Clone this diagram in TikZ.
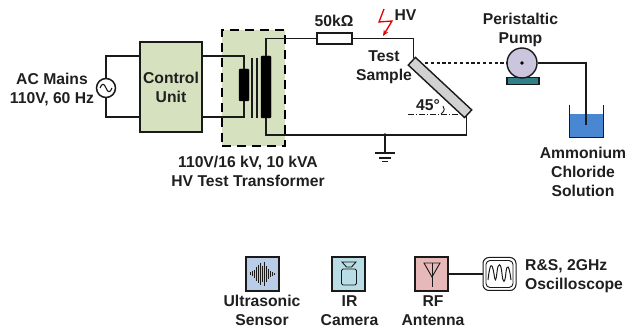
\documentclass[tikz,border=0pt]{standalone}
\usepackage{fontspec}
\setmainfont{Liberation Sans}
\usetikzlibrary{arrows.meta}
\definecolor{boxgreen}{HTML}{D6E1BF}
\definecolor{pumpfill}{HTML}{CBC5DD}
\definecolor{basefill}{HTML}{2F8089}
\definecolor{water}{HTML}{4A87D2}
\definecolor{usfill}{HTML}{B9CDE9}
\definecolor{irfill}{HTML}{B8DDE4}
\definecolor{rffill}{HTML}{E6B9B8}
\definecolor{wirecol}{HTML}{1A1A1A}
\tikzset{
  wire/.style={draw=wirecol,line width=1.7pt},
  thinwire/.style={draw=wirecol,line width=0.9pt},
  lbl/.style={font=\fontsize{15.7}{19}\selectfont\bfseries,align=center,text=black!88,inner sep=0pt},
  iconbox/.style={draw=wirecol,line width=1.2pt,minimum width=33pt,minimum height=34pt,inner sep=0pt},
  coil/.style={fill=black,draw=black,rounded corners=0.8pt,minimum width=10pt,inner sep=0pt},
}
\begin{document}
\begin{tikzpicture}[x=1pt,y=-1pt]
\useasboundingbox (0,0) rectangle (626,328);
% transformer enclosure
\node[draw=black,fill=boxgreen,line width=1.7pt,dash pattern=on 9pt off 6pt,minimum width=63pt,minimum height=116pt,inner sep=0pt] (tbox) at (253.5,88) {};
% control unit
\node[draw=wirecol,fill=boxgreen,line width=1.7pt,minimum width=62.5pt,minimum height=90pt,inner sep=0pt,lbl] (cu) at (171,87) {Control\\Unit};
% source
\node[circle,draw=wirecol,fill=white,line width=1.5pt,minimum size=19pt,inner sep=0pt] (ac) at (106,88) {};
\draw[thinwire,line width=1.1pt] (100,88) .. controls (102,83) and (104,83) .. (106,88) .. controls (108,93) and (110,93) .. (112,88);
\coordinate (cuTL) at (139.5,56);
\coordinate (cuBL) at (139.5,117);
\coordinate (cuTR) at (202.5,56);
\coordinate (cuBR) at (202.5,117);
\draw[wire] (ac) |- (cuTL);
\draw[wire] (ac) |- (cuBL);
% coils
\node[coil,minimum height=32pt] (prim) at (244,85) {};
\node[coil,minimum height=62pt] (sec) at (266,87) {};
\coordinate (c1a) at (252,58);\coordinate (c1b) at (252,118);
\coordinate (c2a) at (257,58);\coordinate (c2b) at (257,118);
\draw[thinwire,line width=1.2pt] (c1a) -- (c1b);
\draw[thinwire,line width=1.2pt] (c2a) -- (c2b);
\draw[wire] (cuTR) -| (prim.north);
\draw[wire] (cuBR) -| (prim.south);
% resistor
\node[draw=wirecol,fill=white,line width=1.3pt,minimum width=35pt,minimum height=11pt,inner sep=0pt] (res) at (334.5,38.5) {};
\node[lbl] (resl) at (334,21) {50kΩ};
\draw[wire] (sec.north) |- (res.west);
% test sample
\node[draw=wirecol,fill=black!18,line width=1.4pt,minimum width=77pt,minimum height=10.5pt,inner sep=0pt,rotate=-43] (sample) at (440,87.5) {};
\coordinate (stop) at (413.5,58);
\coordinate (sbot) at (466.5,116);
\draw[wire] (res.east) -| (stop);
\draw[wire] (sec.south) |- (300,135) -- (385,135) coordinate (gnd) -| (sbot);
\node[lbl] (testl) at (384,67) {Test\\Sample};
% ground
\fill[wirecol] (gnd) circle (1.8pt);
\coordinate (g1) at (385,153);
\draw[wire] (gnd) -- (g1);
\draw[wire] (375,153) -- (395,153);
\draw[wire] (379,158) -- (391,158);
\draw[wire] (382,161.5) -- (388,161.5);
% angle
\coordinate (a1) at (408,114);\coordinate (a2) at (460,114);
\draw[thinwire,dash pattern=on 6pt off 2pt on 1pt off 2pt] (a1) -- (a2);
\draw[thinwire] (441,114) .. controls (445,111) and (445,108) .. (443,106);
\node[lbl] (angl) at (428,105) {45°};
% HV
\coordinate (z1) at (384,9);\coordinate (z2) at (379,22);\coordinate (z3) at (392,21);\coordinate (z4) at (383,36);
\draw[red!90!black,line width=1.3pt,-{Stealth[length=6pt,width=5pt]}] (z1) -- (z2) -- (z3) -- (z4);
\node[lbl] (hvl) at (405.5,15) {HV};
% pump
\node[draw=wirecol,fill=basefill,line width=1.3pt,minimum width=32pt,minimum height=7.5pt,inner sep=0pt] (pbase) at (523,81) {};
\node[circle,draw=wirecol,fill=pumpfill,line width=1.4pt,minimum size=30pt,inner sep=0pt] (pump) at (522,63) {};
\fill[black] (pump.center) circle (1.8pt);
\coordinate (dash0) at (425,63);
\draw[wirecol,line width=1.6pt,dash pattern=on 3.2pt off 2.6pt] (dash0) -- (pump.west);
\node[lbl] (pumpl) at (520.5,29.5) {Peristaltic\\Pump};
% beaker
\fill[water] (569.5,114) rectangle (603.5,137.5);
\coordinate (bk1) at (569.5,105);\coordinate (bk2) at (569.5,137.5);\coordinate (bk3) at (603.5,137.5);\coordinate (bk4) at (603.5,105);
\draw[wire] (bk1) -- (bk2) -- (bk3) -- (bk4);
\coordinate (tube) at (586,125);
\draw[wire] (pump.east) -| (tube);
\node[lbl] (soll) at (583,172) {Ammonium\\Chloride\\Solution};
% labels
\node[lbl] (acl) at (52,89.5) {AC Mains\\110V, 60 Hz};
\node[lbl] (trl) at (248,171.5) {110V/16 kV, 10 kVA\\HV Test Transformer};
% ultrasonic
\node[iconbox,fill=usfill] (us) at (262.5,274) {};
\foreach \x/\h in {250.5/1.5,252.5/2.5,254.5/4,256.5/7,258.5/9,260.5/11,262.5/8,264.5/12,266.5/8,268.5/5,270.5/3,272.5/2,274.5/1}
  \draw[wirecol,line width=1pt] (\x,274-\h) -- (\x,274+\h);
\node[lbl] (usl) at (262,310.5) {Ultrasonic\\Sensor};
% camera
\node[iconbox,fill=irfill] (ir) at (348.5,274) {};
\draw[thinwire,rounded corners=1.5pt] (341.5,269) rectangle (356.5,285);
\draw[thinwire] (342,262) -- (356,262) -- (351.5,267) -- (346.5,267) -- cycle;
\node[lbl] (irl) at (349.5,310.5) {IR\\Camera};
% antenna
\node[iconbox,fill=rffill] (rf) at (431.5,274) {};
\draw[thinwire] (424,263) -- (440,263) -- (432,277) -- cycle;
\draw[thinwire] (432,263) -- (432,287);
\node[lbl] (rfl) at (433,310.5) {RF\\Antenna};
% oscilloscope
\node[draw=wirecol,fill=white,line width=1pt,rounded corners=6pt,minimum width=33pt,minimum height=33pt,inner sep=0pt] (osc) at (499.5,274) {};
\draw[thinwire,rounded corners=4pt] (486,260.5) rectangle (513,287.5);
\draw[thinwire,line width=1pt] (488,280) .. controls (490,262) and (492,262) .. (494,274) .. controls (495,282) and (496,282) .. (497,272) .. controls (498,262) and (501,262) .. (502,274) .. controls (503,284) and (505,284) .. (506,272) .. controls (507,264) and (509,264) .. (511,280);
\draw[thinwire,line width=1.1pt] (rf.east) -- (osc.west);
\node[lbl,align=left,anchor=west] (oscl) at (525,276.5) {R\&S, 2GHz\\Oscilloscope};
\end{tikzpicture}
\end{document}
